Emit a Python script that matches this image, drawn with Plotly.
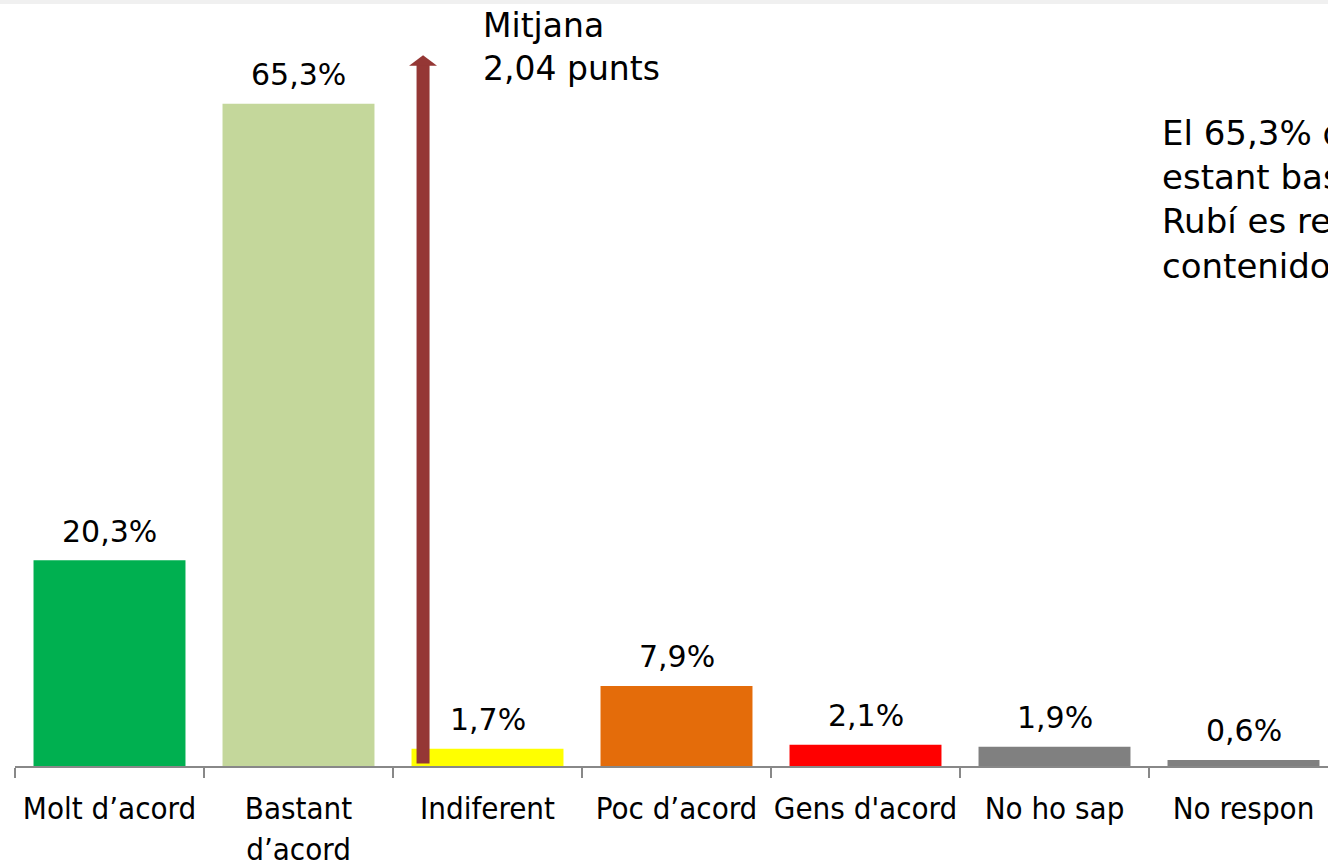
import plotly.graph_objects as go

# Survey answers and their shares (%)
categories = ["Molt d’acord", "Bastant<br>d’acord", "Indiferent", "Poc d’acord",
              "Gens d'acord", "No ho sap", "No respon"]
values = [20.3, 65.3, 1.7, 7.9, 2.1, 1.9, 0.6]
bar_colors = ["#00B050", "#C4D79B", "#FFFF00", "#E46C0A", "#FF0000", "#808080", "#808080"]

mean_score = 2.04
mean_arrow_x = 1.659     # horizontal spot of the mean marker (category units)
mean_arrow_top = 70.1    # arrow tip height (axis units)
head_half_w = 0.074      # arrowhead half width (category units)
head_len = 1.05          # arrowhead length (axis units)

note_lines = ["El 65,3% dels enquestats",
              "estant bastant d'acord que a",
              "Rubí es recullin els residus dels",
              "contenidors"]

FONT_COND = "DejaVu Sans Condensed, DejaVu Sans, sans-serif"
FONT = "DejaVu Sans, sans-serif"

fig = go.Figure()
fig.add_trace(go.Bar(
    x=categories,
    y=values,
    marker=dict(color=bar_colors, line=dict(width=0)),
    width=0.804,
    hoverinfo="skip",
))

# value labels above each bar
for i, v in enumerate(values):
    fig.add_annotation(
        x=i, y=v, text=f"{v:.1f}%".replace(".", ","),
        showarrow=False, yanchor="middle", yshift=29,
        font=dict(family=FONT, size=30, color="#000000"),
    )

# mean marker arrow: shaft + head
ARROW_COLOR = "#953735"
fig.add_shape(type="line", xref="x", yref="y",
              x0=mean_arrow_x, x1=mean_arrow_x, y0=0.25, y1=mean_arrow_top - head_len + 0.1,
              line=dict(color=ARROW_COLOR, width=13))
fig.add_shape(type="path", xref="x", yref="y",
              path=(f"M {mean_arrow_x - head_half_w},{mean_arrow_top - head_len} "
                    f"L {mean_arrow_x + head_half_w},{mean_arrow_top - head_len} "
                    f"L {mean_arrow_x},{mean_arrow_top} Z"),
              fillcolor=ARROW_COLOR, line=dict(width=0))

fig.add_annotation(
    x=(481 - 15) / 1313, y=1 - 47 / 766, xref="paper", yref="paper",
    xanchor="left", yanchor="middle", align="left", showarrow=False,
    text=f"Mitjana<br>{mean_score:.2f} punts".replace(".", ","),
    font=dict(family=FONT, size=33, color="#000000"),
)

# side comment
fig.add_annotation(
    x=(1160 - 15) / 1313, y=1 - 200 / 766, xref="paper", yref="paper",
    xanchor="left", yanchor="middle", align="left", showarrow=False,
    text="<br>".join(note_lines),
    font=dict(family=FONT, size=34, color="#000000"),
)

# thin band along the top edge
fig.add_shape(type="rect", xref="paper", yref="paper", x0=-0.02, x1=1.02,
              y0=1 - 4 / 766, y1=1.01, fillcolor="#F0F0F0", line=dict(width=0))

fig.update_layout(
    width=1328, height=862,
    margin=dict(l=15, r=0, t=0, b=96, autoexpand=False),
    paper_bgcolor="#FFFFFF", plot_bgcolor="#FFFFFF",
    showlegend=False,
    xaxis=dict(
        type="category",
        range=[-0.5, -0.5 + 1313 / 189],
        showgrid=False, zeroline=False,
        showline=True, linecolor="#888888", linewidth=2,
        ticks="outside", tickson="boundaries", ticklen=10,
        tickcolor="#888888", tickwidth=2,
        tickangle=0, automargin=False,
        ticklabelstandoff=14,
        tickfont=dict(family=FONT_COND, size=31, color="#000000"),
        fixedrange=True,
    ),
    yaxis=dict(range=[0, 766 / 10.14], visible=False, fixedrange=True),
)

fig.write_html("out.html")
